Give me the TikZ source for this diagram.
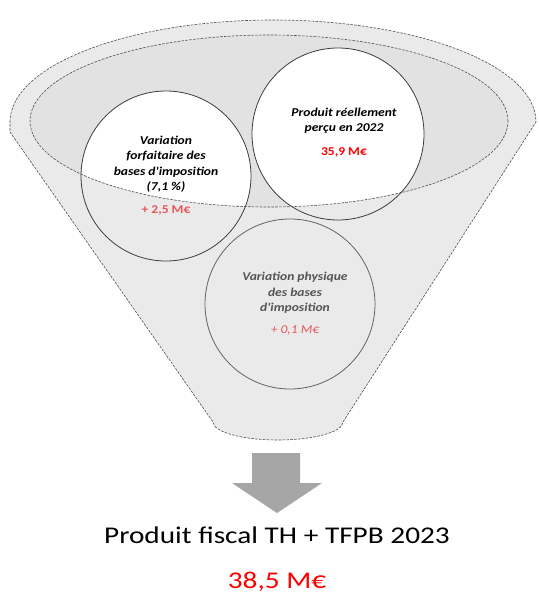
\documentclass[tikz,border=0pt]{standalone}
\usepackage{fontspec}
\setmainfont{Carlito}
\newfontfamily\widemain[FakeStretch=1.22]{Carlito}
\newfontfamily\widecirc[FakeStretch=1.13]{Carlito}
\definecolor{funnelfill}{HTML}{EAEAEA}
\definecolor{innerfill}{HTML}{E2E2E2}
\definecolor{edgegray}{HTML}{505050}
\definecolor{circlegray}{HTML}{3C3C3C}
\definecolor{arrowgray}{HTML}{A6A6A6}
\definecolor{softred}{HTML}{E8555A}
\definecolor{brightred}{HTML}{FF0000}
\definecolor{midtext}{HTML}{555555}
\tikzset{
  dashedge/.style={draw=edgegray, line width=0.6pt, dash pattern=on 2.6pt off 1.3pt},
  circedge/.style={draw=circlegray, line width=0.8pt},
  circtext/.style={align=center, font=\widecirc\fontsize{12}{15.5}\selectfont\bfseries\itshape, inner sep=0pt},
  valtext/.style={font=\widecirc\fontsize{12}{14}\selectfont\bfseries, inner sep=0pt},
  bigtext/.style={font=\widemain\fontsize{24}{28}\selectfont, inner sep=0pt},
}
\begin{document}
\begin{tikzpicture}[x=1pt,y=1pt]
\useasboundingbox (0,0) rectangle (538,-594);
% funnel body
\path[fill=funnelfill, dashedge] (10,-122) arc[start angle=180,end angle=0,x radius=263,y radius=102]
  -- (343,-422) arc[start angle=0,end angle=-180,x radius=65,y radius=18]
  -- (10,-132) -- cycle;
% inner opening
\path[fill=innerfill] (269,-121) ellipse[x radius=239, y radius=86];
% white parts of the circles seen through the opening
\begin{scope}
  \clip (269,-121) ellipse[x radius=239, y radius=86];
  \fill[white] (166,-176) circle[radius=85];
  \fill[white] (338,-134) circle[radius=86];
\end{scope}
\path[dashedge] (269,-121) ellipse[x radius=239, y radius=86];
% circle outlines
\draw[circedge] (166,-176) circle[radius=85];
\draw[circedge] (338,-134) circle[radius=86];
\draw[circedge, draw=circlegray!80] (290,-304) circle[radius=85];
% circle texts
\node[circtext] (lefttxt) at (166,-164) {Variation\\forfaitaire des\\bases d'imposition\\(7,1 \%)};
\node[valtext, text=softred] (leftval) at (166,-210) {+ 2,5 M€};
\node[circtext] (righttxt) at (344,-121) {Produit réellement\\perçu en 2022};
\node[valtext, text=brightred] (rightval) at (344,-152) {35,9 M€};
\node[circtext, text=midtext] (bottxt) at (295,-293) {Variation physique\\des bases\\d'imposition};
\node[valtext, font=\widecirc\fontsize{12}{14}\selectfont\itshape, text=softred] (botval) at (295,-330) {+ 0,1 M€};
% arrow
\fill[arrowgray] (252,-453) -- (300,-453) -- (300,-483) -- (322,-483) -- (277,-513) -- (232,-483) -- (252,-483) -- cycle;
% result texts
\node[bigtext, anchor=base] (result) at (277,-543) {Produit fiscal TH + TFPB 2023};
\node[bigtext, text=brightred, anchor=base] (resultval) at (277,-588) {38,5 M€};
\end{tikzpicture}
\end{document}
